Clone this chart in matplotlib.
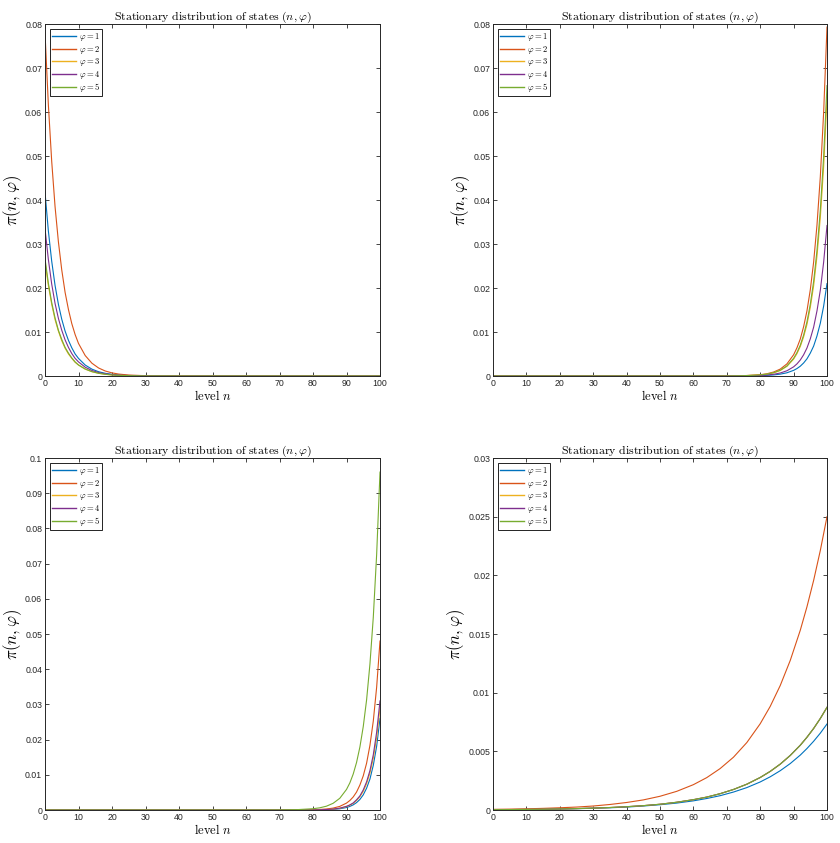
import matplotlib
matplotlib.use("Agg")
import matplotlib.pyplot as plt
from matplotlib.ticker import FuncFormatter

plt.rcParams['mathtext.fontset'] = 'cm'
plt.rcParams['font.family'] = ['Liberation Sans', 'DejaVu Sans']

colors = ['#0072BD', '#D95319', '#EDB120', '#7E2F8E', '#77AC30']
phi_labels = [r'$\varphi=1$', r'$\varphi=2$', r'$\varphi=3$', r'$\varphi=4$', r'$\varphi=5$']

# ---------- Panel 1 (mass near level 0) ----------
n1 = [0, 1, 2, 3, 4, 5, 6, 7, 8, 9, 10, 12, 14, 16, 18, 20, 22, 25, 30, 35, 40, 50, 60, 70, 80, 90, 100]
p1_phi1 = [0.0418, 0.0330, 0.0261, 0.0206, 0.0163, 0.0129, 0.0102, 0.0081, 0.0064, 0.0050, 0.0040,
           0.00249, 0.00156, 0.00097, 0.00061, 0.00038, 0.00024, 0.00012, 0.00004, 0.00001, 0, 0, 0, 0, 0, 0, 0]
p1_phi2 = [0.078, 0.0617, 0.0488, 0.0385, 0.0305, 0.0241, 0.0190, 0.0151, 0.0119, 0.0094, 0.0074,
           0.00465, 0.00291, 0.00182, 0.00113, 0.00071, 0.00044, 0.00022, 0.00007, 0.00002, 0.00001, 0, 0, 0, 0, 0, 0]
p1_phi3 = [0.026, 0.0206, 0.0163, 0.0128, 0.0102, 0.0080, 0.0063, 0.0050, 0.0040, 0.0031, 0.0025,
           0.00155, 0.00097, 0.00061, 0.00038, 0.00024, 0.00015, 0.00007, 0.00002, 0.00001, 0, 0, 0, 0, 0, 0, 0]
p1_phi4 = [0.0335, 0.0265, 0.0209, 0.0165, 0.0131, 0.0104, 0.0082, 0.0065, 0.0051, 0.0040, 0.0032,
           0.0020, 0.00125, 0.00078, 0.00049, 0.0003, 0.00019, 0.00009, 0.00003, 0.00001, 0, 0, 0, 0, 0, 0, 0]
p1_phi5 = [0.0267, 0.0211, 0.0167, 0.0132, 0.0104, 0.0083, 0.0065, 0.0052, 0.0041, 0.0032, 0.0025,
           0.0016, 0.0010, 0.00062, 0.00039, 0.00024, 0.00015, 0.00008, 0.00002, 0.00001, 0, 0, 0, 0, 0, 0, 0]

# ---------- Panels 2 and 3 (mass near level 100) ----------
n23 = [0, 10, 20, 30, 40, 50, 60, 70, 75, 80, 82, 84, 86, 88, 90, 91, 92, 93, 94, 95, 96, 97, 98, 99, 100]
p2_phi1 = [0, 0, 0, 0, 0, 0, 0, 0, 0.00002, 0.00008, 0.00014, 0.00024, 0.00042, 0.00073, 0.00128,
           0.00169, 0.00223, 0.00296, 0.0039, 0.0052, 0.0068, 0.0091, 0.0120, 0.0159, 0.021]
p2_phi2 = [0, 0, 0, 0, 0, 0, 0, 0.00002, 0.00007, 0.00029, 0.00051, 0.0009, 0.00157, 0.00275, 0.00482,
           0.0064, 0.0084, 0.0112, 0.0148, 0.0196, 0.0259, 0.0343, 0.0453, 0.0600, 0.0793]
p2_phi3 = [0, 0, 0, 0, 0, 0, 0, 0, 0.00006, 0.00023, 0.00041, 0.00071, 0.00125, 0.00219, 0.00383,
           0.00507, 0.0067, 0.0089, 0.0117, 0.0156, 0.0205, 0.0272, 0.0360, 0.0476, 0.063]
p2_phi4 = [0, 0, 0, 0, 0, 0, 0, 0, 0.00003, 0.00013, 0.00022, 0.00039, 0.00068, 0.00119, 0.00208,
           0.00275, 0.00363, 0.00482, 0.00636, 0.00845, 0.0111, 0.0148, 0.0195, 0.0259, 0.0342]
p2_phi5 = [0, 0, 0, 0, 0, 0, 0, 0, 0.00006, 0.00024, 0.00043, 0.00075, 0.00131, 0.00229, 0.00401,
           0.00531, 0.0070, 0.0093, 0.0123, 0.0163, 0.0215, 0.0285, 0.0377, 0.0499, 0.066]

p3_phi1 = [0, 0, 0, 0, 0, 0, 0, 0, 0, 0.00002, 0.00004, 0.00008, 0.00017, 0.00035, 0.00071,
           0.00102, 0.00146, 0.0021, 0.0030, 0.0043, 0.0062, 0.0088, 0.0127, 0.0181, 0.026]
p3_phi2 = [0, 0, 0, 0, 0, 0, 0, 0, 0.00002, 0.00008, 0.00015, 0.00029, 0.00054, 0.00103, 0.00196,
           0.0027, 0.0037, 0.0051, 0.0071, 0.0097, 0.0133, 0.0184, 0.0253, 0.0349, 0.048]
p3_phi3 = [0, 0, 0, 0, 0, 0, 0, 0, 0.00001, 0.00003, 0.00006, 0.00013, 0.00025, 0.00049, 0.00097,
           0.00136, 0.0019, 0.0027, 0.0038, 0.0053, 0.0075, 0.0105, 0.0147, 0.0206, 0.029]
p3_phi4 = [0, 0, 0, 0, 0, 0, 0, 0, 0.00001, 0.00003, 0.00007, 0.00013, 0.00027, 0.00052, 0.00104,
           0.00145, 0.0020, 0.0029, 0.0040, 0.0057, 0.0080, 0.0112, 0.0157, 0.0221, 0.031]
p3_phi5 = [0, 0, 0, 0, 0, 0, 0, 0.00002, 0.00009, 0.00036, 0.00062, 0.00108, 0.0019, 0.00333, 0.00584,
           0.0077, 0.0102, 0.0135, 0.0179, 0.0237, 0.0313, 0.0415, 0.0548, 0.0726, 0.096]

# ---------- Panel 4 (slow growth towards level 100) ----------
n4 = [0, 5, 10, 15, 20, 25, 30, 35, 40, 45, 50, 55, 60, 64, 68, 72, 76, 80, 83, 86, 89, 92, 94, 96, 98, 100]
p4_phi1 = [0.000027, 0.000036, 0.000048, 0.000063, 0.00008, 0.00011, 0.00015, 0.00019, 0.00025, 0.00034,
           0.00045, 0.00059, 0.00078, 0.00098, 0.00122, 0.00153, 0.00191, 0.00239, 0.00283, 0.00335,
           0.00396, 0.00468, 0.00524, 0.00586, 0.00655, 0.00733]
p4_phi2 = [0.000055, 0.000075, 0.0001, 0.00014, 0.00019, 0.00025, 0.00034, 0.00047, 0.00064, 0.00086,
           0.00117, 0.00159, 0.00216, 0.00276, 0.00353, 0.0045, 0.00575, 0.00735, 0.00883, 0.01061,
           0.01275, 0.01532, 0.01732, 0.01957, 0.02212, 0.025]
p4_phi3 = [0.000028, 0.000037, 0.00005, 0.000066, 0.00009, 0.00012, 0.00016, 0.00021, 0.00028, 0.00037,
           0.00049, 0.00066, 0.00088, 0.0011, 0.00139, 0.00175, 0.0022, 0.00277, 0.00329, 0.00391,
           0.00465, 0.00552, 0.0062, 0.00695, 0.0078, 0.00875]
p4_phi4 = [0.000028, 0.000037, 0.00005, 0.000066, 0.00009, 0.00012, 0.00016, 0.00021, 0.00028, 0.00037,
           0.00049, 0.00066, 0.00088, 0.0011, 0.00139, 0.00175, 0.0022, 0.00277, 0.00329, 0.00391,
           0.00465, 0.00552, 0.0062, 0.00695, 0.0078, 0.00875]
p4_phi5 = [0.000028, 0.000037, 0.00005, 0.000066, 0.00009, 0.00012, 0.00016, 0.00021, 0.00028, 0.00037,
           0.00049, 0.00066, 0.00088, 0.0011, 0.00139, 0.00175, 0.0022, 0.00277, 0.00329, 0.00391,
           0.00465, 0.00552, 0.0062, 0.00695, 0.0078, 0.00875]

panels = [
    (n1, [p1_phi1, p1_phi2, p1_phi3, p1_phi4, p1_phi5], 0.08, [0, 0.01, 0.02, 0.03, 0.04, 0.05, 0.06, 0.07, 0.08]),
    (n23, [p2_phi1, p2_phi2, p2_phi3, p2_phi4, p2_phi5], 0.08, [0, 0.01, 0.02, 0.03, 0.04, 0.05, 0.06, 0.07, 0.08]),
    (n23, [p3_phi1, p3_phi2, p3_phi3, p3_phi4, p3_phi5], 0.1, [0, 0.01, 0.02, 0.03, 0.04, 0.05, 0.06, 0.07, 0.08, 0.09, 0.1]),
    (n4, [p4_phi1, p4_phi2, p4_phi3, p4_phi4, p4_phi5], 0.03, [0, 0.005, 0.01, 0.015, 0.02, 0.025, 0.03]),
]

W, H = 840, 843
fig = plt.figure(figsize=(W / 100, H / 100), dpi=100)
boxes = [(45, 24, 380, 376), (493, 24, 827, 376), (45, 458, 380, 810), (493, 458, 827, 810)]

axcol = '#262626'
for (x0, y0, x1, y1), (nn, series, ymax, yt) in zip(boxes, panels):
    ax = fig.add_axes([x0 / W, 1 - y1 / H, (x1 - x0) / W, (y1 - y0) / H])
    for s, c, lab in zip(series, colors, phi_labels):
        ax.plot(nn, s, color=c, lw=0.8, label=lab)
    ax.set_xlim(0, 100)
    ax.set_ylim(0, ymax)
    ax.set_xticks(range(0, 101, 10))
    ax.set_yticks(yt)
    ax.yaxis.set_major_formatter(FuncFormatter(lambda v, p: '%g' % round(v, 4)))
    ax.tick_params(direction='in', top=True, right=True, length=3, width=0.6,
                   labelsize=6.3, colors=axcol, labelcolor=axcol, pad=2)
    for sp in ax.spines.values():
        sp.set_color(axcol)
        sp.set_linewidth(0.7)
    ax.set_title(r'$\mathrm{Stationary\ distribution\ of\ states}\ (n,\varphi)$', fontsize=8.5, pad=3)
    ax.set_xlabel(r'$\mathrm{level}\ n$', fontsize=9, labelpad=1)
    ax.set_ylabel(r'$\pi(n,\varphi)$', fontsize=12, labelpad=1)
    leg = ax.legend(loc='upper left', fontsize=6.2, fancybox=False, framealpha=1,
                    edgecolor='black', borderaxespad=0.6, handlelength=2.8, labelspacing=0.05,
                    borderpad=0.25, handletextpad=0.3)
    leg.get_frame().set_linewidth(0.6)
    for line in leg.get_lines():
        line.set_linewidth(1.0)

fig.savefig('out.png', dpi=100)
